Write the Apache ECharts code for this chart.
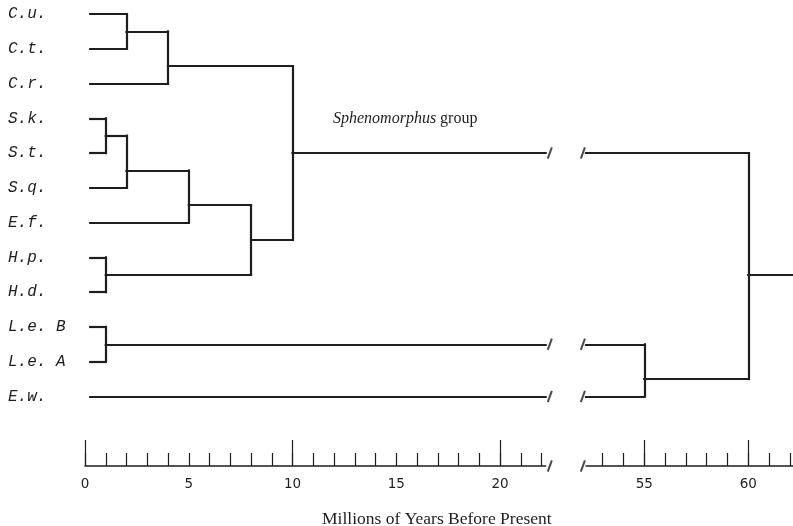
<!DOCTYPE html>
<html>
<head>
<meta charset="utf-8">
<script src="https://cdn.jsdelivr.net/npm/echarts@6/dist/echarts.min.js"></script>
<style>
  html, body { margin: 0; padding: 0; background: #fff; }
  #chart { width: 793px; height: 526px; }
</style>
</head>
<body>
<div id="chart"></div>
<script>
// leaves, top to bottom
const taxa = ['C.u.', 'C.t.', 'C.r.', 'S.k.', 'S.t.', 'S.q.', 'E.f.', 'H.p.', 'H.d.', 'L.e. B', 'L.e. A', 'E.w.']
const leafStart = 0.25

// clusters: name, children, age in Myr, row of the outgoing branch
const clusterNames = ['Cut', 'C', 'Skt', 'Sktq', 'S', 'H', 'SH', 'Spheno', 'Le', 'LeEw', 'root']
const clusterKids = [
  ['C.u.', 'C.t.'], ['Cut', 'C.r.'], ['S.k.', 'S.t.'], ['Skt', 'S.q.'], ['Sktq', 'E.f.'],
  ['H.p.', 'H.d.'], ['S', 'H'], ['C', 'SH'], ['L.e. B', 'L.e. A'], ['Le', 'E.w.'], ['Spheno', 'LeEw']
]
const clusterAge = [2, 4, 1, 2, 5, 1, 8, 10, 1, 55, 60]
const clusterRow = [0.5, 1.5, 3.5, 4.5, 5.5, 7.5, 6.5, 4, 9.5, 10.5, 7.5]
const rootEnd = 62.15

// broken time axis
const leftEnd = 22.2
const rightStart = 52.2
const leftTicks = [0, 1, 2, 3, 4, 5, 6, 7, 8, 9, 10, 11, 12, 13, 14, 15, 16, 17, 18, 19, 20, 21, 22]
const leftLabels = [0, 5, 10, 15, 20]
const leftLong = [0, 10, 20]
const rightTicks = [53, 54, 55, 56, 57, 58, 59, 60, 61, 62]
const rightLabels = [55, 60]
const rightLong = [55, 60]

const pos = {}
taxa.forEach((t, i) => { pos[t] = [leafStart, i] })
clusterNames.forEach((c, i) => { pos[c] = [clusterAge[i], clusterRow[i]] })

const leftSegs = []
const rightSegs = []
const leftSlash = []
const rightSlash = []

function hLine(x1, x2, y) {
  if (x2 <= leftEnd) {
    leftSegs.push({ coords: [[x1, y], [x2, y]] })
  } else if (x1 >= rightStart) {
    rightSegs.push({ coords: [[x1, y], [x2, y]] })
  } else {
    leftSegs.push({ coords: [[x1, y], [leftEnd, y]] })
    rightSegs.push({ coords: [[rightStart, y], [x2, y]] })
    leftSlash.push([leftEnd + 0.2, y])
    rightSlash.push([rightStart - 0.15, y])
  }
}
function vLine(x, y1, y2) {
  const seg = { coords: [[x, y1], [x, y2]] }
  if (x <= leftEnd) leftSegs.push(seg)
  else rightSegs.push(seg)
}

clusterNames.forEach((c, i) => {
  const age = clusterAge[i]
  const a = pos[clusterKids[i][0]]
  const b = pos[clusterKids[i][1]]
  hLine(a[0], age, a[1])
  hLine(b[0], age, b[1])
  vLine(age, a[1], b[1])
})
hLine(60, rootEnd, clusterRow[clusterRow.length - 1])

// axis break marks
leftSlash.push([leftEnd + 0.2, 13])
rightSlash.push([rightStart - 0.15, 13])

const ink = '#1e1e1e'

const chart = echarts.init(document.getElementById('chart'))

function tickAxis(gridIndex, min, max, ticks, labels, len, showLine) {
  return {
    type: 'value',
    gridIndex: gridIndex,
    position: 'bottom',
    min: min,
    max: max,
    splitLine: { show: false },
    axisLine: { show: showLine, onZero: false, lineStyle: { color: ink, width: 1.5 } },
    axisTick: { show: true, inside: true, length: len, customValues: ticks, lineStyle: { color: ink, width: 1.2 } },
    axisLabel: labels ? {
      show: true,
      customValues: labels,
      margin: 11,
      color: ink,
      fontFamily: 'DejaVu Sans',
      fontSize: 13.5
    } : { show: false }
  }
}

chart.setOption({
  animation: false,
  backgroundColor: '#fff',
  title: [
    {
      text: '{i|Sphenomorphus} group',
      left: 328,
      top: 106,
      textStyle: {
        fontFamily: 'Liberation Serif',
        fontSize: 16,
        fontWeight: 'normal',
        color: ink,
        rich: {
          i: { fontFamily: 'Liberation Serif', fontStyle: 'italic', fontSize: 16, color: ink }
        }
      }
    },
    {
      text: 'Millions of Years Before Present',
      left: 317,
      top: 505,
      textStyle: { fontFamily: 'Liberation Serif', fontSize: 17.5, fontWeight: 'normal', color: ink }
    }
  ],
  grid: [
    { left: 85, top: 14, width: leftEnd * 20.75, height: 452 },
    { left: 586, top: 14, right: 0, height: 452 }
  ],
  xAxis: [
    tickAxis(0, 0, leftEnd, leftTicks, leftLabels, 13, true),
    tickAxis(0, 0, leftEnd, leftLong, null, 26, false),
    tickAxis(1, rightStart, rootEnd, rightTicks, rightLabels, 13, true),
    tickAxis(1, rightStart, rootEnd, rightLong, null, 26, false)
  ],
  yAxis: [
    {
      type: 'value',
      gridIndex: 0,
      min: 0,
      max: 13,
      inverse: true,
      splitLine: { show: false },
      axisLine: { show: false },
      axisTick: { show: false },
      axisLabel: {
        customValues: taxa.map((t, i) => i),
        formatter: v => taxa[v] || '',
        align: 'left',
        margin: 77,
        color: ink,
        fontFamily: 'Liberation Mono',
        fontStyle: 'italic',
        fontSize: 16
      }
    },
    {
      type: 'value',
      gridIndex: 1,
      min: 0,
      max: 13,
      inverse: true,
      show: false
    }
  ],
  series: [
    {
      type: 'lines',
      coordinateSystem: 'cartesian2d',
      xAxisIndex: 0,
      yAxisIndex: 0,
      data: leftSegs,
      lineStyle: { color: ink, width: 2.2, opacity: 1, cap: 'square' }
    },
    {
      type: 'lines',
      coordinateSystem: 'cartesian2d',
      xAxisIndex: 2,
      yAxisIndex: 1,
      data: rightSegs,
      lineStyle: { color: ink, width: 2.2, opacity: 1, cap: 'square' }
    },
    {
      type: 'scatter',
      xAxisIndex: 0,
      yAxisIndex: 0,
      clip: false,
      data: leftSlash,
      symbol: 'rect',
      symbolSize: [2, 12],
      symbolRotate: -20,
      itemStyle: { color: ink }
    },
    {
      type: 'scatter',
      xAxisIndex: 2,
      yAxisIndex: 1,
      clip: false,
      data: rightSlash,
      symbol: 'rect',
      symbolSize: [2, 12],
      symbolRotate: -20,
      itemStyle: { color: ink }
    }
  ]
})
</script>
</body>
</html>
